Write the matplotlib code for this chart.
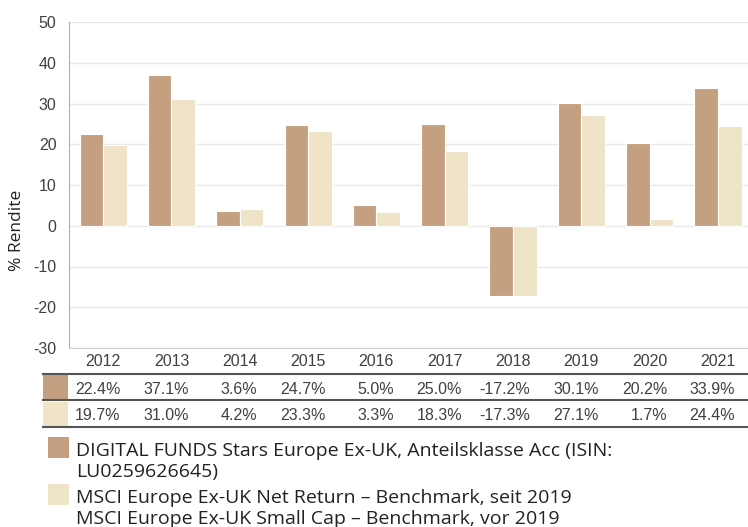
import numpy as np
import matplotlib
matplotlib.use("Agg")
import matplotlib.pyplot as plt
from matplotlib.patches import Rectangle
from matplotlib.lines import Line2D
import matplotlib.transforms as mtrans

plt.rcParams["axes.unicode_minus"] = False

YEARS = ["2012", "2013", "2014", "2015", "2016", "2017", "2018", "2019", "2020", "2021"]
FUND = [22.4, 37.1, 3.6, 24.7, 5.0, 25.0, -17.2, 30.1, 20.2, 33.9]
BENCH = [19.7, 31.0, 4.2, 23.3, 3.3, 18.3, -17.3, 27.1, 1.7, 24.4]
FUND_LINES = ["DIGITAL FUNDS Stars Europe Ex-UK, Anteilsklasse Acc (ISIN:",
              "LU0259626645)"]
BENCH_LINES = ["MSCI Europe Ex-UK Net Return – Benchmark, seit 2019",
               "MSCI Europe Ex-UK Small Cap – Benchmark, vor 2019"]

C_FUND = "#C4A080"
C_BENCH = "#EFE3C8"
TXT = "#404040"

W, H = 748, 527
fig = plt.figure(figsize=(W / 100, H / 100), dpi=100)


def fy(px):
    # pixel row -> figure fraction
    return 1 - px / H


ax = fig.add_axes([69 / W, fy(348), (W - 69) / W, (348 - 22) / H])
x = np.arange(len(YEARS))
bw = 0.345
ax.bar(x - bw / 2, FUND, bw, color=C_FUND, edgecolor="white", linewidth=0.8, zorder=2)
ax.bar(x + bw / 2, BENCH, bw, color=C_BENCH, edgecolor="white", linewidth=0.8, zorder=2)

ax.set_xlim(-0.5, 9.44)
ax.set_ylim(-30, 50)
ax.set_yticks(range(-30, 51, 10))
ax.set_xticks([])
ax.grid(axis="y", color="#e8e8e8", lw=1, zorder=0)
for s in ["top", "right"]:
    ax.spines[s].set_visible(False)
ax.spines["left"].set_color("#b0b0b0")
ax.spines["bottom"].set_color("#d0d0d0")
ax.tick_params(axis="y", length=0, pad=9, labelsize=11.5, labelcolor=TXT)
for lab in ax.get_yticklabels():
    lab.set_fontfamily("Liberation Sans")

fig.text(17 / W, fy(230), "% Rendite", rotation=90, ha="center", va="center",
         fontsize=12.5, color="#222222", family="Open Sans")

# table under the chart: x in data units, y in figure fraction
tr = mtrans.blended_transform_factory(ax.transData, fig.transFigure)
for i, yr in enumerate(YEARS):
    fig.text(x[i], fy(362), yr, transform=tr, ha="center", va="center",
             fontsize=11.5, color=TXT, family="Liberation Sans")
    fig.text(x[i] + 0.255, fy(389), f"{FUND[i]:.1f}%", transform=tr, ha="right",
             va="center", fontsize=11.5, color=TXT, family="Liberation Sans")
    fig.text(x[i] + 0.255, fy(415), f"{BENCH[i]:.1f}%", transform=tr, ha="right",
             va="center", fontsize=11.5, color=TXT, family="Liberation Sans")

for yp in (374, 400, 427):
    fig.add_artist(Line2D([43 / W, 1], [fy(yp), fy(yp)], color="#555555", lw=1.5))
fig.add_artist(Rectangle((43 / W, fy(399)), 25 / W, 24 / H, color=C_FUND, lw=0))
fig.add_artist(Rectangle((43 / W, fy(426)), 25 / W, 24 / H, color=C_BENCH, lw=0))

# legend
fig.add_artist(Rectangle((48 / W, fy(458)), 21 / W, 21 / H, color=C_FUND, lw=0))
fig.add_artist(Rectangle((48 / W, fy(505)), 21 / W, 21 / H, color=C_BENCH, lw=0))
for line, yb in zip(FUND_LINES + BENCH_LINES, (456, 477, 503, 524)):
    fig.text(76 / W, fy(yb), line, ha="left", va="baseline", fontsize=14,
             color="#222222", family="Open Sans")

fig.savefig("out.png", dpi=100)
